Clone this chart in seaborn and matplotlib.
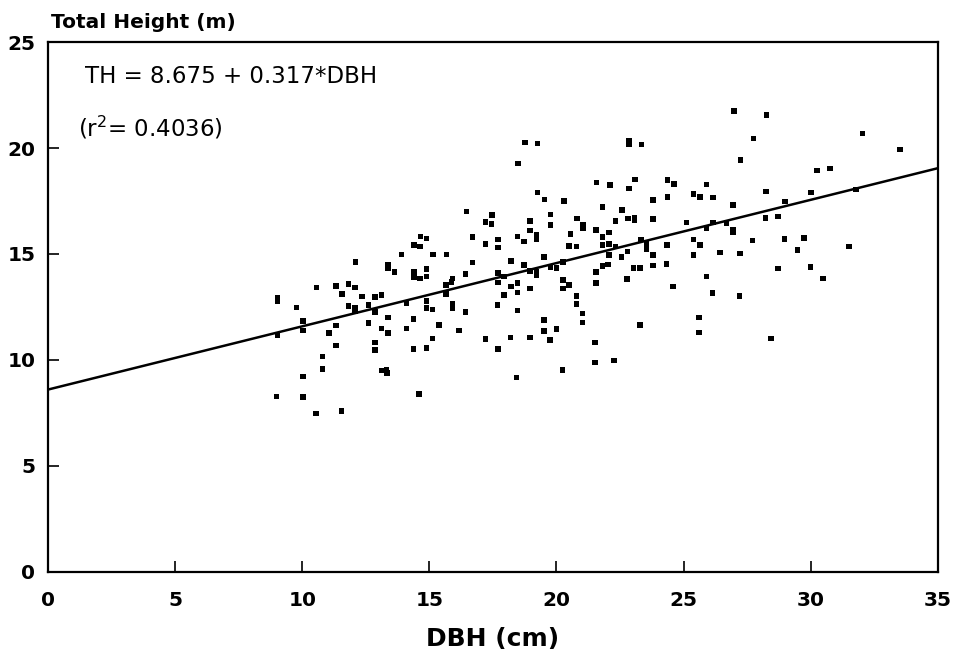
import numpy as np
import pandas as pd
import matplotlib
matplotlib.use("Agg")
import matplotlib.pyplot as plt
import seaborn as sns

# DBH (cm) and total height (m)
dbh = [
    16.46, 16.70, 16.70, 16.42, 16.42, 16.16, 14.65, 14.89, 14.39, 14.63,
    13.91, 15.15, 15.68, 12.10, 13.38, 13.38, 13.63, 14.39, 14.39, 14.63,
    14.89, 14.89, 15.91, 15.87, 15.65, 10.57, 11.33, 11.82, 12.07, 11.57,
    12.36, 12.86, 13.11, 9.02, 9.02, 9.78, 11.82, 12.07, 12.07, 12.60,
    12.86, 14.10, 14.89, 14.89, 15.13, 15.91, 15.91, 15.65, 10.04, 10.04,
    9.02, 11.06, 11.33, 12.60, 13.11, 13.37, 13.37, 14.10, 14.37, 15.39,
    15.13, 14.89, 14.37, 11.33, 12.86, 12.86, 10.80, 10.80, 10.04, 13.11,
    13.32, 13.34, 8.99, 10.04, 14.60, 10.54, 11.55,
    18.76, 19.26, 18.49, 22.85, 22.85, 23.35, 21.58, 22.10, 22.85, 23.08,
    24.37, 24.63, 25.38, 25.64, 25.90, 24.37, 23.80, 19.26, 19.52, 20.30,
    21.81, 22.58, 17.47, 17.21, 17.45, 18.95, 19.77, 19.77, 20.81, 21.05,
    21.05, 22.32, 22.82, 23.06, 23.06, 23.80, 25.11, 18.95, 19.22, 19.22,
    17.71, 17.71, 17.21, 18.46, 18.72, 20.55, 20.50, 20.79, 21.55, 22.07,
    21.81, 21.81, 22.07, 22.32, 23.32, 23.54, 23.54, 24.35, 25.38, 25.64,
    25.90, 25.38, 25.90, 18.21, 19.50, 18.72, 17.71, 17.71, 17.94, 18.95,
    19.22, 19.22, 19.77, 20.00, 20.26, 21.55, 21.55, 22.03, 21.81, 22.07,
    22.56, 22.80, 23.02, 23.28, 22.78, 23.80, 23.80, 24.33, 24.59, 18.46,
    18.46, 18.21, 17.94, 18.95, 20.26, 20.26, 20.50, 20.79, 20.79, 17.68,
    18.46, 21.02, 21.02, 19.50, 19.50, 19.74, 20.00, 18.95, 18.19, 17.21,
    17.71, 23.28, 25.61, 25.61, 21.52, 21.52, 22.27, 20.24, 18.43,
    26.99, 28.26, 27.74, 27.24, 32.04, 33.50, 30.25, 30.75, 26.16, 26.95,
    28.23, 28.98, 30.00, 31.77, 26.16, 26.69, 26.95, 26.95, 28.22, 28.72,
    27.71, 28.97, 29.74, 29.48, 31.50, 26.43, 27.21, 28.71, 29.99, 30.48,
    26.14, 27.20, 28.43,
]
height = [
    17.00, 15.79, 14.59, 14.06, 12.25, 11.38, 15.82, 15.74, 15.42, 15.35,
    14.98, 14.98, 14.98, 14.62, 14.48, 14.32, 14.14, 14.14, 13.88, 13.85,
    13.93, 14.28, 13.85, 13.69, 13.54, 13.41, 13.50, 13.58, 13.41, 13.10,
    12.99, 12.96, 13.07, 12.94, 12.75, 12.47, 12.55, 12.44, 12.28, 12.59,
    12.25, 12.67, 12.78, 12.44, 12.39, 12.64, 12.44, 13.11, 11.84, 11.38,
    11.18, 11.26, 11.62, 11.73, 11.49, 11.26, 12.00, 11.49, 11.92, 11.64,
    11.01, 10.55, 10.51, 10.68, 10.83, 10.47, 10.16, 9.56, 9.21, 9.50,
    9.53, 9.37, 8.27, 8.24, 8.40, 7.48, 7.59,
    20.27, 20.22, 19.28, 20.33, 20.17, 20.17, 18.37, 18.25, 18.10, 18.52,
    18.49, 18.30, 17.82, 17.70, 18.29, 17.70, 17.55, 17.91, 17.58, 17.50,
    17.23, 17.08, 16.84, 16.52, 16.42, 16.57, 16.87, 16.37, 16.68, 16.40,
    16.21, 16.57, 16.68, 16.73, 16.60, 16.64, 16.48, 16.11, 15.90, 15.69,
    15.69, 15.30, 15.46, 15.82, 15.58, 15.94, 15.38, 15.35, 16.13, 16.01,
    15.80, 15.42, 15.46, 15.35, 15.69, 15.46, 15.24, 15.42, 15.69, 15.42,
    16.21, 14.95, 13.93, 14.67, 14.87, 14.48, 14.09, 13.65, 13.93, 14.21,
    14.17, 13.98, 14.36, 14.33, 14.61, 14.14, 13.62, 14.51, 14.43, 14.95,
    14.87, 15.11, 14.33, 14.33, 13.82, 14.95, 14.45, 14.53, 13.46, 13.62,
    13.19, 13.46, 13.07, 13.38, 13.76, 13.38, 13.54, 13.03, 12.63, 12.59,
    12.33, 12.20, 11.76, 11.89, 11.37, 10.94, 11.45, 11.05, 11.05, 10.99,
    10.52, 11.65, 12.01, 11.29, 10.83, 9.87, 9.97, 9.53, 9.18,
    21.75, 21.56, 20.46, 19.43, 20.69, 19.94, 18.93, 19.04, 17.67, 17.31,
    17.94, 17.47, 17.90, 18.05, 16.49, 16.45, 16.16, 16.01, 16.71, 16.76,
    15.63, 15.72, 15.75, 15.19, 15.35, 15.08, 15.03, 14.31, 14.39, 13.85,
    13.15, 13.02, 11.01,
]

# fitted line as drawn in the figure
fit_x = [0, 35]
fit_y = [8.6, 19.05]

x_ticks = [0, 5, 10, 15, 20, 25, 30, 35]
y_ticks = [0, 5, 10, 15, 20, 25]

df = pd.DataFrame({"DBH": dbh, "TH": height})
fit = pd.DataFrame({"DBH": fit_x, "TH": fit_y})

sns.set_style("ticks")
plt.rcParams["font.family"] = ["DejaVu Sans"]
plt.rcParams["mathtext.default"] = "regular"
plt.rcParams["text.color"] = "black"

fig = plt.figure(figsize=(9.59, 6.58), dpi=100)
ax = fig.add_axes([0.050, 0.131, 0.928, 0.805])

sns.scatterplot(data=df, x="DBH", y="TH", ax=ax, marker="s", s=16,
                color="black", edgecolor="none", linewidth=0)
sns.lineplot(data=fit, x="DBH", y="TH", ax=ax, color="black", linewidth=1.8)

ax.set_xlim(0, 35)
ax.set_ylim(0, 25)
ax.set_xticks(x_ticks)
ax.set_yticks(y_ticks)
ax.tick_params(direction="in", length=8, width=1.2, labelsize=14.5, pad=9,
               colors="black")
ax.tick_params(axis="x", pad=14)
for lab in ax.get_xticklabels() + ax.get_yticklabels():
    lab.set_fontweight("bold")
for sp in ax.spines.values():
    sp.set_visible(True)
    sp.set_linewidth(1.6)
    sp.set_color("black")

ax.set_xlabel("DBH (cm)", fontsize=18, fontweight="bold", labelpad=12,
              color="black")
ax.set_ylabel("")
fig.text(0.053, 0.951, "Total Height (m)", fontsize=14.5, fontweight="bold",
         ha="left", va="bottom")

ax.text(0.0416, 0.936, "TH = 8.675 + 0.317*DBH", transform=ax.transAxes,
        fontsize=16.5, ha="left", va="center")
ax.text(0.0337, 0.838, "(r$^{2}$= 0.4036)", transform=ax.transAxes,
        fontsize=16.5, ha="left", va="center")

fig.savefig("out.png", dpi=100)
